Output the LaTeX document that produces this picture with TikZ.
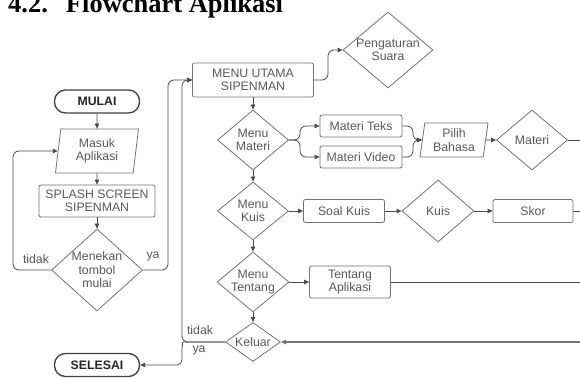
\documentclass[tikz,border=0pt]{standalone}
\usepackage{fontspec}
\setmainfont{Liberation Serif}
\setsansfont{Liberation Sans}
\usetikzlibrary{shapes.geometric,arrows.meta}
\begin{document}
\begin{tikzpicture}[x=1pt,y=-1pt,>={Triangle[length=5pt,width=4.5pt]}]
		\tikzstyle{dasar}=[draw=black!55,fill=white,line width=0.8pt,text=black!65,font=\sffamily\fontsize{12.3}{13.5}\selectfont,align=center]
		\tikzstyle{kotak}=[dasar,rectangle,rounded corners=2pt,inner sep=0pt]
		\tikzstyle{putusan}=[dasar,diamond,aspect=1.2,inner sep=-2pt]
		\tikzstyle{masukan}=[dasar,trapezium,trapezium left angle=78,trapezium right angle=102,trapezium stretches body,inner sep=0pt]
		\tikzstyle{ujung}=[dasar,rectangle,rounded corners=11pt,draw=black!75,line width=1.3pt,text=black!85,font=\sffamily\bfseries\fontsize{12.3}{13.5}\selectfont,minimum width=85pt,minimum height=23pt]
		\tikzstyle{edge}=[draw=black!70,line width=0.8pt]
		\tikzstyle{ket}=[text=black!65,font=\sffamily\fontsize{12.3}{13.5}\selectfont,inner sep=0pt]

		\useasboundingbox[fill=white] (0,0) rectangle (580,377);
		\node [anchor=base west,inner sep=0pt,font=\rmfamily\bfseries\fontsize{26.5}{30}\selectfont] (judul) at (8,13) {4.2.\hspace{18pt}Flowchart Aplikasi};

		% kolom kiri
		\node [ujung] (mulai) at (97,101.5) {MULAI};
		\node [masukan,minimum width=83pt,minimum height=44pt] (masuk) at (97,151) {Masuk\\Aplikasi};
		\node [kotak,minimum width=116pt,minimum height=32pt] (splash) at (97,201) {SPLASH SCREEN\\SIPENMAN};
		\node [putusan,minimum width=91pt,minimum height=82pt] (tekan) at (97,270) {Menekan\\tombol\\mulai};
		\node [ujung] (selesai) at (97,365) {SELESAI};
		\node [ket] (tidak1) at (36,259) {tidak};
		\node [ket] (ya1) at (153,256) {ya};

		% menu utama
		\node [kotak,minimum width=121pt,minimum height=34pt] (utama) at (253,80) {MENU UTAMA\\SIPENMAN};
		\node [putusan,minimum width=90pt,minimum height=76pt] (atur) at (388,50) {Pengaturan\\Suara};
		\node [putusan,minimum width=71pt,minimum height=60pt] (mmateri) at (253,140) {Menu\\Materi};
		\node [putusan,minimum width=71pt,minimum height=58pt] (mkuis) at (253,211) {Menu\\Kuis};
		\node [putusan,minimum width=72pt,minimum height=60pt] (mtentang) at (253,282) {Menu\\Tentang};
		\node [putusan,minimum width=55pt,minimum height=39pt,aspect=1.4] (keluar) at (253,342) {Keluar};
		\node [ket] (tidak2) at (200,330) {tidak};
		\node [ket] (ya2) at (199,350) {ya};

		% materi
		\node [kotak,minimum width=82pt,minimum height=22pt] (teks) at (361,126) {Materi Teks};
		\node [kotak,minimum width=82pt,minimum height=22pt] (video) at (361,157) {Materi Video};
		\node [masukan,minimum width=68pt,minimum height=34pt] (pilih) at (454,140) {Pilih\\Bahasa};
		\node [putusan,minimum width=71pt,minimum height=60pt] (bmateri) at (532,140) {Materi};

		% kuis
		\node [kotak,minimum width=81pt,minimum height=23pt] (soal) at (344,211) {Soal Kuis};
		\node [putusan,minimum width=72pt,minimum height=62pt] (kuis) at (438,211) {Kuis};
		\node [kotak,minimum width=80pt,minimum height=23pt] (skor) at (533,211) {Skor};

		% tentang
		\node [kotak,minimum width=81pt,minimum height=32pt] (tentang) at (350,282) {Tentang\\Aplikasi};

		\coordinate (kanan1) at (582,140);
		\coordinate (kanan2) at (582,211);
		\coordinate (kanan3) at (582,282);
		\coordinate (kanan4) at (582,342);

		\path[edge,->] (mulai) -- (masuk);
		\path[edge,->] (masuk) -- (splash);
		\path[edge,->] (splash) -- (tekan);
		\path[edge,->,rounded corners=6pt] (tekan.west) -- (13,270) |- (masuk.west);
		\path[edge,->,rounded corners=6pt] (tekan.east) -- (168,270) |- (utama.west);

		\path[edge,->,rounded corners=6pt] (utama.east) -- (328,80) |- (atur.west);
		\path[edge,->] (utama) -- (mmateri);
		\path[edge,->,rounded corners=6pt] (mmateri.east) -- (300,140) |- (teks.west);
		\path[edge,->,rounded corners=6pt] (mmateri.east) -- (300,140) |- (video.west);
		\path[edge,->,rounded corners=6pt] (teks.east) -- (413,126) |- (pilih.west);
		\path[edge,->,rounded corners=6pt] (video.east) -- (413,157) |- (pilih.west);
		\path[edge,->] (pilih) -- (bmateri);
		\path[edge] (bmateri) -- (kanan1);

		\path[edge,->] (mmateri) -- (mkuis);
		\path[edge,->] (mkuis) -- (soal);
		\path[edge,->] (soal) -- (kuis);
		\path[edge,->] (kuis) -- (skor);
		\path[edge] (skor) -- (kanan2);

		\path[edge,->] (mkuis) -- (mtentang);
		\path[edge,->] (mtentang) -- (tentang);
		\path[edge] (tentang) -- (kanan3);

		\path[edge,->] (mtentang) -- (keluar);
		\path[edge,->,draw=black!55,line width=1.3pt] (kanan4) -- (keluar);
		\path[edge,->,rounded corners=6pt] (keluar.west) -| (182,80) -- (utama.west);
		\path[edge,->,rounded corners=5pt] (keluar.west) -- (188,342) to[out=180,in=90] (182,354) |- (selesai.east);
\end{tikzpicture}
\end{document}
